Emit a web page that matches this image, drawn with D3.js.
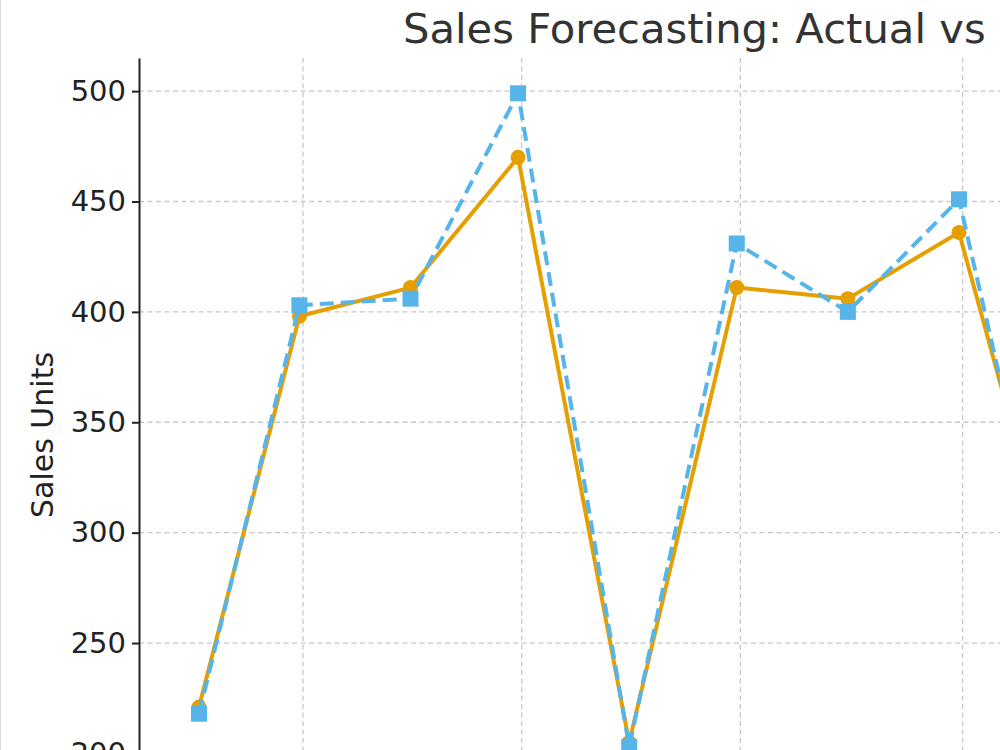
<!DOCTYPE html>
<html>
<head>
<meta charset="utf-8">
<script src="https://cdn.jsdelivr.net/npm/d3@7"></script>
<style>
    html, body { margin: 0; padding: 0; background: #fff; overflow: hidden; }
    svg { display: block; font-family: "DejaVu Sans", sans-serif; }
</style>
</head>
<body>
<svg id="chart"></svg>
<script>
// month-end dates (only the first nine reach the visible part of the figure)
const months = ['2023-01-31', '2023-02-28', '2023-03-31', '2023-04-30', '2023-05-31',
                '2023-06-30', '2023-07-31', '2023-08-31', '2023-09-30'];
const actual   = [221, 398, 411, 470, 205, 411, 406, 436, 258];
const forecast = [218, 403, 406, 499, 203, 431, 400, 451, 238];
const yticks = [200, 250, 300, 350, 400, 450, 500];
const title = 'Sales Forecasting: Actual vs';
const ylabel = 'Sales Units';

class SalesChart {

    constructor( config, data ) {
        this.config = {
            parent: config.parent,
            width: config.width || 1000,
            height: config.height || 750
        }
        this.data = data;
        this.init();
    }

    init() {
        let self = this;

        self.svg = d3.select( self.config.parent )
            .attr('width', self.config.width)
            .attr('height', self.config.height);

        // thin frame line on the left edge of the picture
        self.svg.append('line')
            .attr('x1', 0.5).attr('x2', 0.5)
            .attr('y1', 0).attr('y2', self.config.height)
            .attr('stroke', '#dddddd')
            .attr('stroke-width', 1);

        self.parse = d3.timeParse('%Y-%m-%d');
        self.axis_x = 139;

        self.xscale = d3.scaleTime()
            .domain( [self.parse(months[0]), self.parse(months[7])] )
            .range( [199, 959] );

        self.yscale = d3.scaleLinear()
            .domain( [190, 515] )
            .range( [775.5, 58] );

        self.grid_group = self.svg.append('g');
        self.yaxis_group = self.svg.append('g')
            .attr('transform', `translate(${self.axis_x}, 0)`);
        self.lines_group = self.svg.append('g');
    }

    update() {
        let self = this;

        self.xvalue = d => d.date;

        self.line_actual = d3.line()
            .x( d => self.xscale( self.xvalue(d) ) )
            .y( d => self.yscale( d.actual ) );

        self.line_forecast = d3.line()
            .x( d => self.xscale( self.xvalue(d) ) )
            .y( d => self.yscale( d.forecast ) );

        self.render();
    }

    render() {
        let self = this;
        const [y0, y1] = self.yscale.range();

        // horizontal grid
        self.grid_group.selectAll('.hgrid')
            .data( yticks )
            .join('line')
            .attr('class', 'hgrid')
            .attr('x1', self.axis_x).attr('x2', 1000)
            .attr('y1', d => self.yscale(d)).attr('y2', d => self.yscale(d))
            .attr('stroke', '#c8c8c8')
            .attr('stroke-width', 1.3)
            .attr('stroke-dasharray', '5,3.5');

        // vertical grid every second month, inside the axes only
        const xgrid = d3.timeMonth.every(2)
            .range( new Date(2023, 0, 1), new Date(2023, 11, 1) )
            .filter( d => self.xscale(d) > self.axis_x );
        self.grid_group.selectAll('.vgrid')
            .data( xgrid )
            .join('line')
            .attr('class', 'vgrid')
            .attr('x1', d => self.xscale(d)).attr('x2', d => self.xscale(d))
            .attr('y1', y1).attr('y2', y0)
            .attr('stroke', '#c8c8c8')
            .attr('stroke-width', 1.3)
            .attr('stroke-dasharray', '5,3.5');

        // y axis
        self.yaxis = d3.axisLeft( self.yscale )
            .tickValues( yticks )
            .tickSize(7)
            .tickSizeOuter(0)
            .tickPadding(6);

        self.yaxis_group.call( self.yaxis );
        self.yaxis_group.select('.domain')
            .attr('stroke', '#222')
            .attr('stroke-width', 2);
        self.yaxis_group.selectAll('.tick line')
            .attr('stroke', '#222')
            .attr('stroke-width', 2);
        self.yaxis_group.selectAll('.tick text')
            .attr('fill', '#222')
            .attr('font-size', 29)
            .attr('font-family', '"DejaVu Sans", sans-serif');

        // actual: orange solid with circles
        self.lines_group.append('path')
            .attr('d', self.line_actual(self.data))
            .attr('stroke', '#E69F00')
            .attr('stroke-width', 4)
            .attr('stroke-linejoin', 'round')
            .attr('fill', 'none');

        self.lines_group.selectAll('.dot')
            .data( self.data )
            .join('circle')
            .attr('class', 'dot')
            .attr('cx', d => self.xscale(d.date))
            .attr('cy', d => self.yscale(d.actual))
            .attr('r', 7.5)
            .attr('fill', '#E69F00');

        // forecast: blue dashed with squares
        self.lines_group.append('path')
            .attr('d', self.line_forecast(self.data))
            .attr('stroke', '#56B4E9')
            .attr('stroke-width', 4)
            .attr('stroke-dasharray', '14,7')
            .attr('fill', 'none');

        self.lines_group.selectAll('.sq')
            .data( self.data )
            .join('rect')
            .attr('class', 'sq')
            .attr('x', d => self.xscale(d.date) - 8)
            .attr('y', d => self.yscale(d.forecast) - 8)
            .attr('width', 16)
            .attr('height', 16)
            .attr('fill', '#56B4E9');

        // title and axis label
        self.svg.append('text')
            .attr('x', 403)
            .attr('y', 43)
            .attr('fill', '#333')
            .attr('font-size', 41.7)
            .text( title );

        self.svg.append('text')
            .attr('transform', 'translate(53, 435) rotate(-90)')
            .attr('text-anchor', 'middle')
            .attr('fill', '#222')
            .attr('font-size', 30)
            .text( ylabel );
    }
}

const data = months.map( (m, i) => ({
    date: d3.timeParse('%Y-%m-%d')(m),
    actual: actual[i],
    forecast: forecast[i]
}) );

const chart = new SalesChart( { parent: '#chart', width: 1000, height: 750 }, data );
chart.update();
</script>
</body>
</html>
